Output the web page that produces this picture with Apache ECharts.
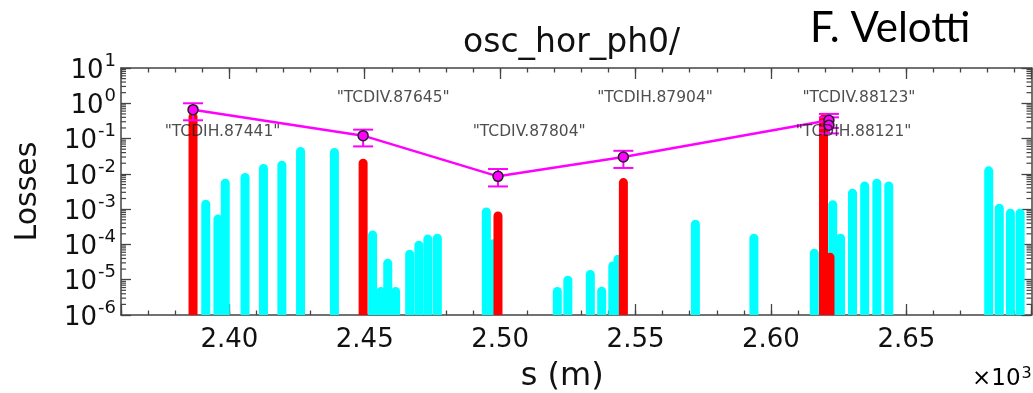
<!DOCTYPE html>
<html>
<head>
<meta charset="utf-8">
<script src="https://cdn.jsdelivr.net/npm/echarts@6/dist/echarts.min.js"></script>
<style>
html,body{margin:0;padding:0;background:#fff;}
#chart{width:1033px;height:393px;}
</style>
</head>
<body>
<div id="chart"></div>
<script>
// ---- data (s in metres, losses) ----
const cyanS    = [2391.3, 2395.8, 2398.5, 2405.8, 2412.6, 2419.4, 2426.3, 2438.8, 2452.9, 2456.0, 2458.5, 2461.4, 2466.6, 2470.0, 2473.3, 2476.8, 2494.9, 2497.5, 2521.1, 2525.0, 2533.3, 2537.5, 2541.6, 2543.5, 2572.1, 2593.7, 2616.0, 2622.8, 2625.7, 2630.1, 2634.6, 2639.1, 2643.5, 2680.4, 2684.3, 2688.4, 2692.0];
const cyanLoss = [1.85e-3, 7e-4, 7.3e-3, 1.06e-2, 1.9e-2, 2.36e-2, 5.8e-2, 5.4e-2, 2.5e-4, 6.2e-6, 3.9e-5, 6.2e-6, 7.1e-5, 1.28e-4, 1.9e-4, 2.0e-4, 1.12e-3, 1.4e-4, 6.2e-6, 1.3e-5, 1.9e-5, 6.3e-6, 3.3e-5, 5.1e-5, 5.0e-4, 2.0e-4, 7.6e-5, 1.8e-3, 2.0e-4, 3.8e-3, 6.1e-3, 7.3e-3, 6.1e-3, 1.63e-2, 1.43e-3, 1.03e-3, 1.03e-3];

const redS     = [2386.6, 2449.4, 2499.2, 2545.5, 2619.4, 2621.8];
const redLoss  = [0.55, 0.027, 8.6e-4, 7.6e-3, 0.48, 5.8e-5];

const collS    = [2386.6, 2449.4, 2499.2, 2545.5, 2621.4, 2621.4];
const collLoss = [0.66, 0.121, 8.5e-3, 0.030, 0.33, 0.24];
const collLow  = [0.33, 0.060, 4.4e-3, 0.0147, 0.20, 0.14];
const collHigh = [1.0, 0.179, 0.0137, 0.045, 0.50, 0.40];

const labelNames = ['"TCDIH.87441"', '"TCDIV.87645"', '"TCDIV.87804"', '"TCDIH.87904"', '"TCDIV.88123"', '"TCDIH.88121"'];
const labelS     = [2397.5, 2460.5, 2510.7, 2557.2, 2632.5, 2630.5];
const labelLoss  = [0.157, 1.40, 0.157, 1.40, 1.40, 0.157];

const yDecades = [-6, -5, -4, -3, -2, -1, 0, 1];
const yMinorMult = [2, 3, 4, 5, 6, 7, 8, 9];

const X_MIN = 2360, X_MAX = 2696.2;
const Y_MIN = 1e-6, Y_MAX = 10;

// ---- build ----
const zip = (a, b) => a.map((v, i) => [v, b[i]]);
const yMinorTicks = [];
yDecades.slice(0, -1).forEach(d => yMinorMult.forEach(m => yMinorTicks.push(m * Math.pow(10, d))));

const AX = '#444';
const FONT = 'DejaVu Sans';

function barRender(color) {
  return function (params, api) {
    const s = api.value(0), v = api.value(1);
    const top = api.coord([s, v]);
    const base = api.coord([s, Y_MIN]);
    const w = 9;
    return {
      type: 'rect',
      shape: { x: top[0] - w / 2, y: top[1], width: w, height: base[1] - top[1], r: [w / 2, w / 2, 0, 0] },
      style: { fill: color }
    };
  };
}

const xBase = {
  type: 'value', min: X_MIN, max: X_MAX, gridIndex: 0,
  splitLine: { show: false },
  axisLine: { show: true, onZero: false, lineStyle: { color: AX, width: 1.5 } }
};
const fmtX = v => (Math.abs(v % 50) < 1e-6) ? (v / 1000).toFixed(2) : '';

const chart = echarts.init(document.getElementById('chart'), null, { renderer: 'canvas' });
chart.setOption({
  backgroundColor: '#fff',
  animation: false,
  title: [
    { text: 'osc_hor_ph0/', left: 458, top: 22, textStyle: { fontFamily: FONT, fontSize: 33, fontWeight: 'normal', color: '#111' } },
    { text: 'F. Velotti', left: 805, top: 2, textStyle: { fontFamily: 'Lato', fontSize: 42, fontWeight: 'normal', color: '#000' } }
  ],
  graphic: [
    { type: 'text', left: 972, top: 366, style: { text: '{b|×10}{s|3}', rich: { b: { fontFamily: FONT, fontSize: 23, color: '#111' }, s: { fontFamily: FONT, fontSize: 16, color: '#111', verticalAlign: 'top', padding: [0, 0, 10, 1] } } } }
  ],
  grid: { left: 121, right: 1.5, top: 68, bottom: 78, containLabel: false, outerBoundsMode: 'none' },
  xAxis: [
    Object.assign({}, xBase, {
      position: 'bottom', minInterval: 10, maxInterval: 10,
      axisTick: { inside: true, length: 4.5, lineStyle: { color: AX, width: 1.3 } },
      axisLabel: { formatter: fmtX, fontFamily: FONT, fontSize: 26, color: '#111', margin: 12 },
      name: 's (m)', nameLocation: 'middle', nameGap: 46,
      nameTextStyle: { fontFamily: FONT, fontSize: 32, color: '#111', padding: [0, 28, 0, 0] }
    }),
    Object.assign({}, xBase, {
      position: 'bottom', minInterval: 50, maxInterval: 50,
      axisLine: { show: false },
      axisTick: { inside: true, length: 11, lineStyle: { color: AX, width: 1.3 } },
      axisLabel: { show: false }
    }),
    Object.assign({}, xBase, {
      position: 'top', minInterval: 10, maxInterval: 10,
      axisTick: { inside: true, length: 4.5, lineStyle: { color: AX, width: 1.3 } },
      axisLabel: { show: false }
    }),
    Object.assign({}, xBase, {
      position: 'top', minInterval: 50, maxInterval: 50,
      axisLine: { show: false },
      axisTick: { inside: true, length: 11, lineStyle: { color: AX, width: 1.3 } },
      axisLabel: { show: false }
    })
  ],
  yAxis: [
    {
      type: 'log', logBase: 10, min: Y_MIN, max: Y_MAX, position: 'left',
      splitLine: { show: false },
      axisLine: { show: true, onZero: false, lineStyle: { color: AX, width: 1.5 } },
      axisTick: { inside: true, length: 10, lineStyle: { color: AX, width: 1.3 } },
      axisLabel: {
        margin: 5,
        formatter: v => '{b|10}{s|' + Math.round(Math.log10(v)) + '}',
        rich: {
          b: { fontFamily: FONT, fontSize: 26, color: '#111', lineHeight: 32, verticalAlign: 'bottom' },
          s: { fontFamily: FONT, fontSize: 18, color: '#111', lineHeight: 32, verticalAlign: 'top', padding: [0, 0, 0, 1] }
        }
      },
      name: 'Losses', nameLocation: 'middle', nameGap: 78, nameRotate: 90,
      nameTextStyle: { fontFamily: FONT, fontSize: 30, color: '#111' }
    },
    {
      type: 'log', logBase: 10, min: Y_MIN, max: Y_MAX, position: 'right',
      splitLine: { show: false },
      axisLine: { show: true, onZero: false, lineStyle: { color: AX, width: 1.5 } },
      axisTick: { inside: true, length: 10, lineStyle: { color: AX, width: 1.3 } },
      axisLabel: { show: false }
    }
  ],
  series: [
    {
      name: 'minorTicks', type: 'custom', silent: true, xAxisIndex: 0, yAxisIndex: 0, z: 1,
      data: yMinorTicks.map(v => [X_MIN, v]),
      renderItem: function (params, api) {
        const p = api.coord([api.value(0), api.value(1)]);
        const cs = params.coordSys;
        const st = { stroke: AX, lineWidth: 1.2 };
        return { type: 'group', children: [
          { type: 'line', shape: { x1: cs.x, y1: p[1], x2: cs.x + 5, y2: p[1] }, style: st },
          { type: 'line', shape: { x1: cs.x + cs.width, y1: p[1], x2: cs.x + cs.width - 5, y2: p[1] }, style: st }
        ] };
      }
    },
    {
      name: 'cold', type: 'custom', xAxisIndex: 0, yAxisIndex: 0, z: 2, clip: true,
      data: zip(cyanS, cyanLoss), renderItem: barRender('#00FFFF')
    },
    {
      name: 'coll', type: 'custom', xAxisIndex: 0, yAxisIndex: 0, z: 3, clip: true,
      data: zip(redS, redLoss), renderItem: barRender('#FF0000')
    },
    {
      name: 'err', type: 'custom', xAxisIndex: 0, yAxisIndex: 0, z: 4,
      data: collS.map((s, i) => [s, collLow[i], collHigh[i]]),
      renderItem: function (params, api) {
        const lo = api.coord([api.value(0), api.value(1)]);
        const hi = api.coord([api.value(0), api.value(2)]);
        const hw = 10;
        const st = { stroke: '#FF00FF', lineWidth: 2 };
        return { type: 'group', children: [
          { type: 'line', shape: { x1: lo[0], y1: lo[1], x2: hi[0], y2: hi[1] }, style: st },
          { type: 'line', shape: { x1: lo[0] - hw, y1: lo[1], x2: lo[0] + hw, y2: lo[1] }, style: st },
          { type: 'line', shape: { x1: hi[0] - hw, y1: hi[1], x2: hi[0] + hw, y2: hi[1] }, style: st }
        ] };
      }
    },
    {
      name: 'collLoss', type: 'line', xAxisIndex: 0, yAxisIndex: 0, z: 5,
      data: zip(collS, collLoss),
      lineStyle: { color: '#FF00FF', width: 2.5 },
      symbol: 'circle', symbolSize: 10,
      itemStyle: { color: '#FF00FF', borderColor: '#222', borderWidth: 1.5 }
    },
    {
      name: 'labels', type: 'scatter', xAxisIndex: 0, yAxisIndex: 0, z: 6,
      data: labelS.map((s, i) => ({ value: [s, labelLoss[i]], name: labelNames[i] })),
      symbolSize: 0.1, itemStyle: { color: 'rgba(0,0,0,0)' },
      label: { show: true, position: 'inside', formatter: p => p.name, fontFamily: FONT, fontSize: 15.5, color: '#222' }
    }
  ]
});
</script>
</body>
</html>
